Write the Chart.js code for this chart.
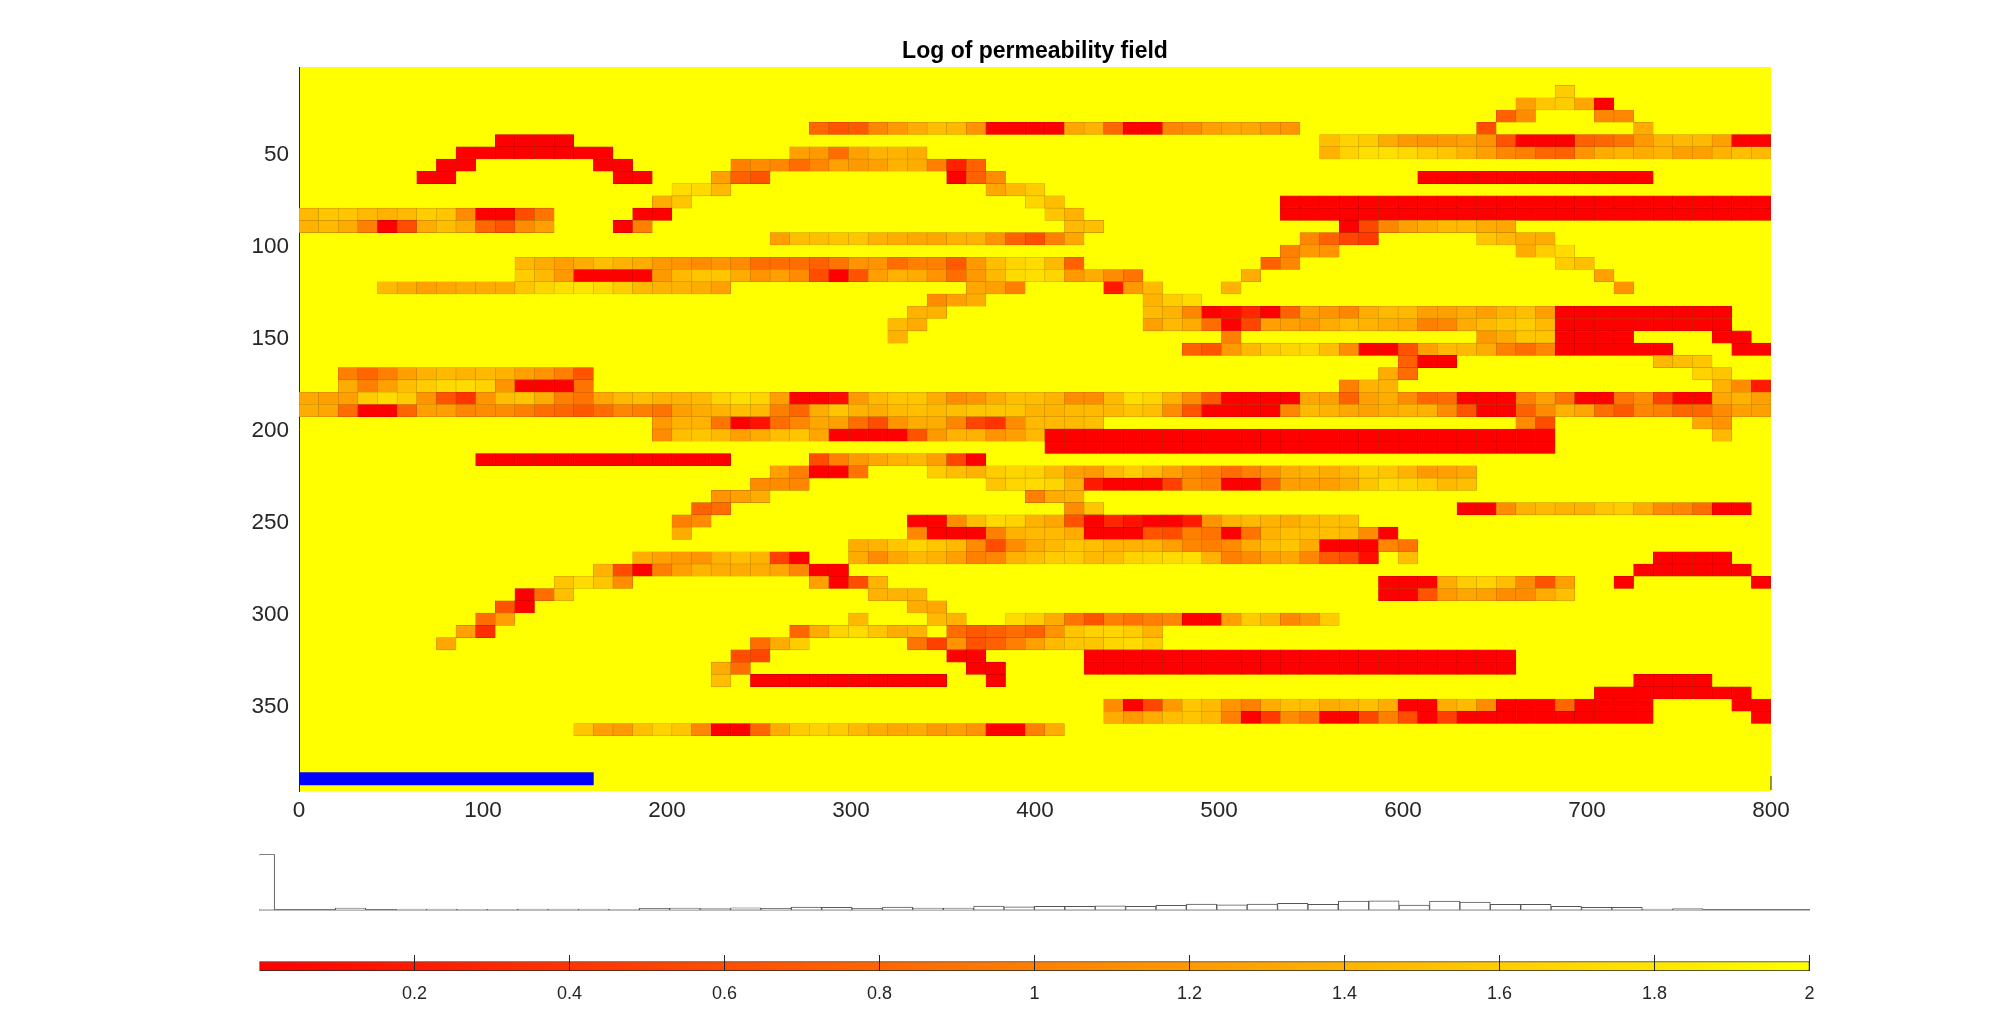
<!DOCTYPE html>
<html>
<head>
<meta charset="utf-8">
<title>Log of permeability field</title>
<script src="https://cdn.jsdelivr.net/npm/chart.js@4"></script>
<style>
  html, body { margin: 0; background: #fff; overflow: hidden; }
  canvas { position: absolute; left: 0; }
  #fieldChart { top: 0; }
  #histChart { top: 830px; }
  #barChart { top: 920px; }
</style>
</head>
<body>
<canvas id="fieldChart" width="2000" height="830"></canvas>
<canvas id="histChart" width="2000" height="90"></canvas>
<canvas id="barChart" width="2000" height="96"></canvas>
<script>
const xTickValues = [0, 100, 200, 300, 400, 500, 600, 700, 800];
const yTickValues = [50, 100, 150, 200, 250, 300, 350];
const colorTickValues = [0.2, 0.4, 0.6, 0.8, 1, 1.2, 1.4, 1.6, 1.8, 2];

// one entry per run of filled cells: grid row, first grid column, log permeability values
const cellRows = [
  2, 3, 4, 4, 5, 5, 5, 6, 6, 7, 7, 7,
  8, 8, 8, 9, 9, 9, 9, 9, 10, 10, 11, 11, 11,
  12, 12, 12, 12, 13, 13, 13, 13, 14, 14, 14,
  15, 15, 16, 16, 16, 17, 17, 17, 18, 18, 18, 18, 18,
  19, 19, 20, 20, 21, 21, 22, 22, 22, 22, 23, 23, 24, 24,
  25, 25, 25, 26, 26, 26, 27, 28, 29, 29, 29, 30, 30,
  31, 32, 32, 33, 33, 34, 34, 35, 35, 36, 36, 36, 37, 37, 38, 38,
  39, 40, 40, 40, 40, 41, 41, 42, 42, 42, 42, 42, 43, 43, 43,
  44, 44, 45, 45, 45, 45, 46, 46, 46, 47, 47, 47,
  48, 48, 48, 49, 49, 49, 50, 50, 50, 50, 51, 52, 52, 53, 53, 54
];
const cellStarts = [
  64, 62, 61, 66, 26, 60, 68, 10, 52, 8, 25, 52,
  7, 15, 22, 6, 16, 21, 33, 57, 19, 35, 18, 37, 50,
  0, 17, 38, 50, 0, 16, 39, 53, 24, 51, 60,
  50, 62, 11, 49, 64, 11, 48, 66, 4, 34, 41, 47, 67,
  32, 43, 31, 43, 30, 43, 30, 47, 60, 72, 45, 73, 56, 69,
  2, 55, 71, 2, 53, 72, 0, 0, 18, 62, 71, 18, 72,
  38, 9, 26, 24, 32, 23, 35, 21, 37, 20, 39, 59, 19, 31, 19, 31,
  28, 17, 28, 56, 69, 15, 68, 13, 26, 55, 67, 74, 11, 29, 55,
  10, 31, 9, 28, 32, 36, 8, 25, 33, 7, 23, 31,
  22, 33, 40, 21, 34, 40, 21, 23, 35, 68, 66, 41, 73, 41, 74, 14
];
const cellValues = [
  [1.6],
  [1.25, 1.55, 1.6, 1.3, 0],
  [.75, 1.1],
  [1.05, 1.05],
  [.8, .65, .7, 1.05, 1.2, 1.35, 1.5, 1.45, 1.15, 0, 0, 0, 0, 1.3, 1.4, .8, 0, 0, 1.05, 1.1, 1.25, 1.3, 1.3, 1.2, 1.15],
  [.6],
  [1.35],
  [0, 0, 0, 0],
  [1.5, 1.65, 1.6, 1.35, 1.2, 1.15, 1.2, 1.25, 1.15, .65, 0, 0, 0, .75, .8, .9, 1.2, 1.4, 1.45, 1.45, 1.25, 0, 0],
  [0, 0, 0, 0, 0, 0, 0, 0],
  [1.25, 1.2, .85, 1.25, 1.4, 1.4, 1.35],
  [1.4, 1.65, 1.75, 1.75, 1.7, 1.6, 1.55, 1.4, 1.25, 1.05, 1, .8, .75, 1.15, 1.35, 1.4, 1.35, 1.4, 1.25, 1.25, 1.4, 1.5, 1.45],
  [0, 0],
  [0, 0],
  [1, 1.1, 1.05, .85, 1.05, 1.25, 1.2, 1.25, 1.4, 1.35, 1, .25, .75],
  [0, 0],
  [0, 0],
  [1.25, .75, .65],
  [0, .75, 1.1],
  [0, 0, 0, 0, 0, 0, 0, 0, 0, 0, 0, 0],
  [1.72, 1.7, 1.45],
  [1.3, 1.45, 1.6],
  [1.35, 1.55],
  [1.67, 1.5],
  [0, 0, 0, 0, 0, 0, 0, 0, 0, 0, 0, 0, 0, 0, 0, 0, 0, 0, 0, 0, 0, 0, 0, 0, 0],
  [1.45, 1.55, 1.55, 1.45, 1.4, 1.45, 1.6, 1.55, 1.1, 0, 0, .6, .9],
  [0, 0],
  [1.55, 1.4],
  [0, 0, 0, 0, 0, 0, 0, 0, 0, 0, 0, 0, 0, 0, 0, 0, 0, 0, 0, 0, 0, 0, 0, 0, 0],
  [1.4, 1.45, 1.35, 1, 0, .6, 1.35, 1.5, 1.35, .8, .65, 1.1, 1.25],
  [0, 1],
  [1.45, 1.5],
  [0, .55, 1.05, 1.25, 1.35, 1.45, 1.45, 1.35, 1.3],
  [1.25, 1.5, 1.5, 1.55, 1.55, 1.4, 1.35, 1.3, 1.3, 1.4, 1.4, 1.15, .75, .6, 1, 1.3],
  [1.05, .75, .55, .45],
  [1.55, 1.45, 1.35, 1.35],
  [1, 1.2, 1.15],
  [1.35, 1.6, 1.72],
  [1.45, 1.35, 1.25, 1.35, 1.5, 1.4, 1.35, 1.2, 1.15, 1.1, 1.15, 1.1, .85, .85, .85, .75, .9, 1.15, 1.15, .85, 1, 1, .7, 1.2, 1.5, 1.67, 1.72, 1.45, .75],
  [.75, 1.05],
  [1.6, 1.5],
  [1.6, 1.45, 1.2, 0, 0, 0, 0, 1.2, 1.45, 1.55, 1.55, 1.35, 1.15, 1.25, 1.1, .6, 0, .65, 1.25, 1.4, 1.35, 1.15, .85, 1.2, 1.45, 1.72, 1.75, 1.67, 1.2, 1.35, 1.1, .9],
  [1.35],
  [1.25],
  [1.45, 1.35, 1.25, 1.3, 1.35, 1.35, 1.35, 1.55, 1.67, 1.75, 1.8, 1.72, 1.6, 1.45, 1.4, 1.4, 1.35, 1.25],
  [1.3, 1.25, 1],
  [.2, 1.2, 1.45],
  [1.4],
  [1.15],
  [1.1, 1.25, 1.35],
  [1.4, 1.6, 1.72],
  [1.4, 1.4],
  [1.45, 1.4, 1.05, 0, .1, .3, 0, .75, 1.25, 1.15, 1.05, 1.35, 1.45, 1.45, 1.25, 1.25, 1.35, 1.25, 1.4, 1.5, 1.25, 0, 0, 0, 0, 0, 0, 0, 0, 0],
  [1.45, 1.35],
  [1.25, 1.45, 1.35, .85, 0, .55, 1.25, 1.25, 1.2, 1.35, 1.45, 1.4, 1.35, 1.3, 1, 1.05, 1.35, 1.45, 1.55, 1.6, 1.45, 0, 0, 0, 0, 0, 0, 0, 0, 0],
  [1.4],
  [1],
  [1.2, 1.35, 1.55, 1.55, 0, 0, 0, 0],
  [0, 0],
  [.75, .65, 1.2, 1.45, 1.6, 1.67, 1.7, 1.5, 1.1, 0, 0, .65, 1.25, 1.45, 1.45, 1.35, 1, .85, 1.05, 0, 0, 0, 0, 0, 0],
  [0, 0],
  [.75, 0, 0],
  [1.45, 1.5, 1.55],
  [1, .8, 1, 1.25, 1.4, 1.45, 1.4, 1.45, 1.4, 1.25, 1.15, 1, .65],
  [1.35, .85],
  [1.65, 1.55],
  [1.35, 1, 1.25, 1.5, 1.6, 1.7, 1.72, 1.65, 1.15, 0, 0, 0, .9],
  [1, 1.4, 1.4],
  [1.4, 1.1, .2],
  [1.3, 1.25, 1.25, 1.6, 1.72, 1.6, 1.15, .65, .4, 1.15, 1.5, 1.55, 1.35, 1, .9, 1.3, 1.45, 1.5, 1.4, 1.4, 1.45, 1.65, 1.75, 1.67, 1.25, 0, 0, .1, 1.2, 1.45, 1.55, 1.55, 1.35, 1.1, 1.15, 1.35, 1.5, 1.5, 1.4, 1.1, 1.1, 1.45, 1.75, 1.67, 1.4, 1.1, .7, 0, 0, 0, 0, 1.3, 1.25, .75, 1.25, 1.35, 1.1, .8, .85, 0, 0, 0, 1, 1.25, .9, 0, 0, .9, 1.1, .5, 0, 0, 1.3, 1.4, 1.25],
  [1.35, 1.3, .85, 0, 0, .8, 1.25, 1.25, 1.05, 1.1, 1.1, 1, .85, .8, .7, .85, 1.05, 1, .9, 1.25, 1.35, 1.4, 1.5, 1.45, 1, .8, 1.35, 1.55, 1.4, 1.35, 1.45, 1.5, 1.45, 1.5, 1.55, 1.55, 1.55, 1.4, 1.4, 1.45, 1.45, 1.45, 1.55, 1.5, 1.1, .65, 0, 0, 0, 0, 1.05, 1.45, 1.4, 1.3, 1.25, 1.35, 1.4, 1.4, 1.1, .65, 0, 0, .75, 1.1, 1.4, 1.3, .85, .7, 1.05, 1, .8, .8, 1.1, 1.25, 1.25],
  [1.2, 1.4, 1.4, .9, 0, .15, .85, 1.05, 1.3, 1.25, .85, .6, 1.15, 1.35, 1.35, 1.05, .55, .4, 1.1, 1.45, 1.45, 1.45, 1.5],
  [1.1, .6],
  [1.3, 1.15],
  [1.1, 1.5, 1.55, 1.45, 1.25, 1.35, 1.5, 1.55, 1.3, 0, 0, 0, 0, .65, 1.2, 1.4, 1.4, 1.15, 1.25, 1.45, 0, 0, 0, 0, 0, 0, 0, 0, 0, 0, 0, 0, 0, 0, 0, 0, 0, 0, 0, 0, 0, 0, 0, 0, 0, 0],
  [1.45],
  [0, 0, 0, 0, 0, 0, 0, 0, 0, 0, 0, 0, 0, 0, 0, 0, 0, 0, 0, 0, 0, 0, 0, 0, 0, 0],
  [0, 0, 0, 0, 0, 0, 0, 0, 0, 0, 0, 0, 0],
  [.6, 1, 1.2, 1.3, 1.4, 1.45, 1.25, .55, 0],
  [1.25, 1, 0, 0, .9],
  [1.6, 1.5, 1.4, 1.6, 1.67, 1.65, 1.45, 1.25, 1.2, 1.45, 1.6, 1.45, 1.25, 1.1, 1, .85, 1, 1.15, 1.35, 1.4, 1.35, 1.45, 1.6, 1.55, 1.4, 1.2, 1.25, 1.3],
  [1.1, 1.1, 1.05],
  [1.55, 1.67, 1.72, 1.67, 1.4, .2, 0, 0, 0, .5, 1.1, 1, 0, 0, .8, 1.25, 1.25, 1.25, 1.35, 1.55, 1.72, 1.67, 1.6, 1.45, 1.5],
  [1.15, 1.25, 1.35],
  [1, 1.35, 1.4],
  [.75, .85],
  [1.1, 1.55],
  [0, 0, 1.1, 1.4, 1.45, 1.4, 1.4, 1.55, 1.6, 1.35, 1.1, 1.05, .85, 0, 0],
  [1, 1.1],
  [0, 0, 1.1, 1.5, 1.7, 1.65, 1.4, 1.3, .65, 0, .3, .15, 0, 0, .2, 1.15, 1.4, 1.45, 1.4, 1.35, 1.45, 1.5, 1.5],
  [1.35],
  [1.05, 0, 0, 0, 1, 1.4, 1.45, 1.45, 1.35, 0, 0, 0, .65, .6, 1, .9, 0, .9, 1.4, 1.5, 1.5, 1.5, 1.45, 1.1, 0],
  [1.35, 1.4, 1.55, 1.67, 1.55, 1.45, 1.1, .6, 1.1, 1.35, 1.45, 1.55, 1.5, 1.4, 1.4, 1.4, 1.25, 1.05, 1, 1.1, 1.35, 1.5, 1.55, 1.35, 0, 0, 0, 1.05, .9],
  [1.35, 1.25, 1.2, 1.15, 1.4, 1.5, 1.4, .5, 0],
  [1.35, 1.1, 1.3, 1.45, 1.4, 1.25, 1, 1.05, 1.4, 1.5, 1.6, 1.6, 1.45, 1.5, 1.65, 1.67, 1.72, 1.75, 1.4, 1, 1.1, 1.25, 1.3, 1.05, .7, .6, .1],
  [1.5],
  [0, 0, 0, 0],
  [1.4, .6, 0, 1, 1.25, 1.4, 1.35, 1.35, 1.35, 1.3, 1.05, 0, 0],
  [0, 0, 0, 0, 0, 0],
  [1.55, 1.72, 1.55, 1.1],
  [1.25, 0, .6, 1.4],
  [0, 0, 0, 1.35, 1.6, 1.65, 1.5, 1.1, .65, 1.25],
  [0],
  [0],
  [0, .85, 1.5],
  [1.4, 1.4, 1.4],
  [0, 0, .65, 1.2, 1.3, 1.25, 1.1, 1.1, 1.35, 1.5],
  [.65, 0],
  [1.35, 1.3],
  [.85, 1.25],
  [1.45],
  [1.45, 1.4],
  [1.72, 1.6, 1.35, .9, .65, 1, .9, 1, 1.05, 0, 0, 1.25, 1.6, 1.45, 1.05, 1.2, 1.6],
  [1.25, .35],
  [.8, 1.35, 1.67, 1.72, 1.55, 1.35, 1.4],
  [.85, .7, .75, .85, .75, 1.15, 1.55, 1.65, 1.67, 1.6, 1.4],
  [1.3],
  [.85, 1.35, 1.6],
  [.9, .5, 1.15, .65, .75, 1, 1.25, 1.45, 1.55, 1.55, 1.67, 1.72, 1.6],
  [.6, .55],
  [0, 0],
  [0, 0, 0, 0, 0, 0, 0, 0, 0, 0, 0, 0, 0, 0, 0, 0, 0, 0, 0, 0, 0, 0],
  [1.35, .85],
  [0, 0],
  [0, 0, 0, 0, 0, 0, 0, 0, 0, 0, 0, 0, 0, 0, 0, 0, 0, 0, 0, 0, 0, 0],
  [1.5],
  [0, 0, 0, 0, 0, 0, 0, 0, 0, 0],
  [0],
  [0, 0, 0, 0],
  [0, 0, 0, 0, 0, 0, 0, 0],
  [1.1, 0, .55, 1.2, 1.55, 1.45, 1.15, 1, 1.35, 1.5, 1.5, 1.35, 1.4, 1.5, 1.35, 0, 0, 1.35, 1.45, 1.1, 0, 0, 0, .8, 0, 0, 0, 0],
  [0, 0],
  [1.35, 1.2, 1.35, 1.5, 1.55, 1.45, 1, 0, .45, 1.1, .95, 0, 0, .55, 1, .6, 0, .5, 0, 0, 0, 0, 0, 0, 0, 0, 0, 0],
  [0],
  [1.55, 1.25, 1.2, 1.5, 1.65, 1.55, 1.05, 0, 0, .8, 1.35, 1.6, 1.65, 1.6, 1.45, 1.35, 1.3, 1.35, 1.2, 1.25, 1.15, 0, 0, 1, 1.35]
];

const blueBarRow = 58;
const blueBarRange = [0, 160];

const histCenters = [
  0, .0392, .0784, .1176, .1569, .1961, .2353, .2745, .3137, .3529, .3922, .4314, .4706,
  .5098, .549, .5882, .6275, .6667, .7059, .7451, .7843, .8235, .8627, .902, .9412, .9804,
  1.0196, 1.0588, 1.098, 1.1373, 1.1765, 1.2157, 1.2549, 1.2941, 1.3333, 1.3725, 1.4118, 1.451, 1.4902,
  1.5294, 1.5686, 1.6078, 1.6471, 1.6863, 1.7255, 1.7647, 1.8039, 1.8431, 1.8824, 1.9216, 1.9608, 2
];
const histCounts = [
  334, 0, 0, 10, 0, 4, 4, 2, 2, 4, 4, 3, 2,
  8, 10, 6, 12, 8, 16, 14, 8, 16, 10, 10, 22, 18,
  20, 20, 24, 20, 26, 34, 30, 34, 38, 32, 52, 54, 28,
  52, 46, 32, 32, 20, 14, 14, 4, 6, 0, 0, 0, 0
];

const CELL_W = 800 / 75;
const CELL_H = 400 / 60;
const FONT = '"Liberation Sans", Arial, sans-serif';
const TEXT = '#262626';

Chart.defaults.font.family = FONT;
Chart.defaults.color = TEXT;

function autumn(v) {
  return `rgb(255,${Math.round(v / 2 * 255)},0)`;
}

// the thin cell outline, a darker shade of the same colour
function autumnEdge(v) {
  return `rgb(200,${Math.round(v / 2 * 200)},0)`;
}

function rowCenter(row) {
  return (row + 0.5) * CELL_H;
}

function buildCells() {
  const points = [];
  const colors = [];
  const edges = [];
  cellRows.forEach((row, s) => {
    cellValues[s].forEach((v, i) => {
      const col = cellStarts[s] + i;
      points.push({ x: [col * CELL_W, (col + 1) * CELL_W], y: rowCenter(row) });
      colors.push(autumn(v));
      edges.push(autumnEdge(v));
    });
  });
  return { points, colors, edges };
}

function fixedTicks(values) {
  return (axis) => { axis.ticks = values.map((value) => ({ value })); };
}

const fieldBackground = {
  id: 'fieldBackground',
  beforeDraw(chart) {
    const { ctx, chartArea: a } = chart;
    ctx.fillStyle = '#ffff00';
    ctx.fillRect(a.left, a.top, a.right - a.left, a.bottom - a.top);
  },
  afterDraw(chart) {
    // the 800 tick is the only one not hidden by the surface
    const { ctx, chartArea: a } = chart;
    const x = chart.scales.x.getPixelForValue(800);
    ctx.strokeStyle = TEXT;
    ctx.lineWidth = 1;
    ctx.beginPath();
    ctx.moveTo(x, a.bottom - 15);
    ctx.lineTo(x, a.bottom - 1);
    ctx.stroke();
  }
};

const cells = buildCells();

new Chart(document.getElementById('fieldChart'), {
  type: 'bar',
  plugins: [fieldBackground],
  data: {
    datasets: [
      {
        data: cells.points,
        backgroundColor: cells.colors,
        borderColor: cells.edges,
        borderWidth: 0.6,
        inflateAmount: 0.3,
        borderSkipped: false,
        grouped: false,
        barPercentage: 1,
        categoryPercentage: 1
      },
      {
        data: [{ x: blueBarRange, y: rowCenter(blueBarRow) }],
        backgroundColor: '#0000ff',
        borderWidth: 0,
        grouped: false,
        barPercentage: 1,
        categoryPercentage: 1
      }
    ]
  },
  options: {
    indexAxis: 'y',
    responsive: false,
    animation: false,
    devicePixelRatio: 1,
    events: [],
    layout: { padding: { left: 238, right: 229, top: 0, bottom: 0 } },
    plugins: {
      legend: { display: false },
      tooltip: { enabled: false },
      title: {
        display: true,
        fullSize: false,
        text: 'Log of permeability field',
        color: '#000',
        font: { size: 23, weight: 'bold', lineHeight: 1.2 },
        padding: { top: 38, bottom: 1.4 }
      }
    },
    scales: {
      x: {
        type: 'linear',
        min: 0,
        max: 800,
        grid: { display: false, drawTicks: false },
        border: { display: false },
        ticks: { font: { size: 22.5 }, padding: 6, maxRotation: 0 },
        afterBuildTicks: fixedTicks(xTickValues),
        afterFit: (s) => { s.height = 39; }
      },
      y: {
        type: 'linear',
        reverse: true,
        offset: false,
        min: 10 / 3,
        max: 1190 / 3,
        grid: { display: false, offset: false, drawTicks: false },
        border: { display: true, color: TEXT, width: 1 },
        ticks: { font: { size: 22.5 }, padding: 10, labelOffset: 2 },
        afterBuildTicks: fixedTicks(yTickValues),
        afterFit: (s) => { s.width = 61; }
      }
    }
  }
});

new Chart(document.getElementById('histChart'), {
  type: 'bar',
  data: {
    datasets: [{
      data: histCenters.map((x, i) => ({ x, y: histCounts[i] })),
      backgroundColor: '#fff',
      borderColor: '#555',
      borderWidth: 1,
      barPercentage: 1,
      categoryPercentage: 1
    }]
  },
  options: {
    responsive: false,
    animation: false,
    devicePixelRatio: 1,
    events: [],
    layout: { padding: { left: 259.4, right: 190.6, top: 24.3, bottom: 10.3 } },
    plugins: { legend: { display: false }, tooltip: { enabled: false } },
    scales: {
      x: {
        type: 'linear',
        offset: false,
        min: 0,
        max: 2,
        grid: { display: false, offset: false, drawTicks: false },
        border: { display: true, color: '#777', width: 1.5 },
        ticks: { display: false },
        afterFit: (s) => { s.height = 0; }
      },
      y: { display: false, min: 0, max: 334 }
    }
  }
});

new Chart(document.getElementById('barChart'), {
  type: 'bar',
  data: {
    datasets: [{
      data: [{ x: [0, 2], y: 4.75 }],
      backgroundColor: (c) => {
        const { chart } = c;
        if (!chart.chartArea) return '#ff0000';
        const xs = chart.scales.x;
        const g = chart.ctx.createLinearGradient(xs.getPixelForValue(0), 0, xs.getPixelForValue(2), 0);
        g.addColorStop(0, autumn(0));
        g.addColorStop(1, autumn(2));
        return g;
      },
      borderColor: TEXT,
      borderWidth: 1,
      borderSkipped: false,
      barThickness: 9.5
    }]
  },
  options: {
    indexAxis: 'y',
    responsive: false,
    animation: false,
    devicePixelRatio: 1,
    events: [],
    layout: { padding: { left: 259.4, right: 190.6, top: 35, bottom: 0 } },
    plugins: { legend: { display: false }, tooltip: { enabled: false } },
    scales: {
      x: {
        type: 'linear',
        min: 0,
        max: 2,
        grid: { color: TEXT, lineWidth: 1, z: 1, drawTicks: false },
        border: { display: false },
        ticks: { font: { size: 18 }, padding: 12.5, maxRotation: 0, callback: (v) => String(v) },
        afterBuildTicks: fixedTicks(colorTickValues),
        afterFit: (s) => { s.height = 45; }
      },
      y: {
        type: 'linear',
        display: false,
        offset: false,
        min: 0,
        max: 16,
        grid: { offset: false },
        afterBuildTicks: fixedTicks([])
      }
    }
  }
});
</script>
</body>
</html>
